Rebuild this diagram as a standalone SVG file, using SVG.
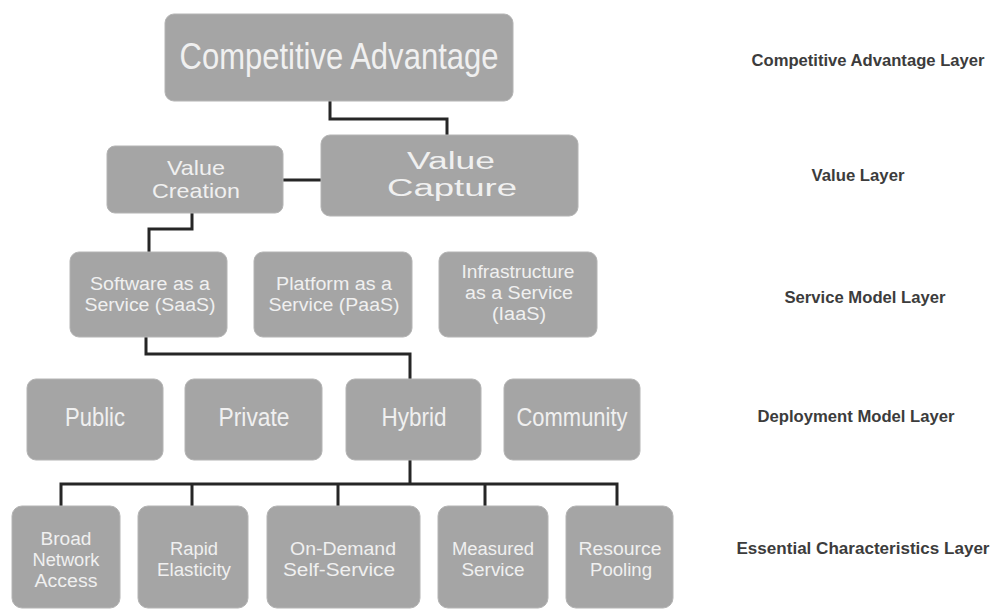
<svg xmlns="http://www.w3.org/2000/svg" width="992" height="612" viewBox="0 0 992 612">
<style>
.box{fill:#a5a5a5;stroke:#b4b4b4;stroke-width:1}
.t{font-family:"Liberation Sans",Arial,sans-serif;fill:#f0f0f0;text-anchor:middle}
.lbl{font-family:"Liberation Sans",Arial,sans-serif;font-weight:bold;font-size:17px;fill:#3c3c3c;text-anchor:middle}
.c{fill:none;stroke:#262626;stroke-width:3;stroke-linejoin:miter}
</style>
<rect width="992" height="612" fill="#ffffff"/>
<g id="connectors">
<path class="c" d="M330 101 V119 H447 V135"/>
<path class="c" d="M283 180 H321"/>
<path class="c" d="M192 213 V229 H149 V252"/>
<path class="c" d="M146 337 V354 H410 V379"/>
<path class="c" d="M410 460 V484"/>
<path class="c" d="M61 506 V484 H617 V506"/>
<path class="c" d="M192 484 V506 M338 484 V506 M485 484 V506"/>
</g>
<g id="competitive-advantage">
<rect class="box" x="165" y="14" width="348" height="87" rx="9"/>
<text class="t" x="339" y="69" font-size="37" textLength="319" lengthAdjust="spacingAndGlyphs">Competitive Advantage</text>
</g>
<g id="value-capture">
<rect class="box" x="321" y="135" width="257" height="81" rx="9"/>
<text class="t" x="451" y="169" font-size="23" textLength="88" lengthAdjust="spacingAndGlyphs">Value</text>
<text class="t" x="452" y="196" font-size="23" textLength="130" lengthAdjust="spacingAndGlyphs">Capture</text>
</g>
<g id="value-creation">
<rect class="box" x="107" y="146" width="176" height="67" rx="8"/>
<text class="t" x="196" y="175" font-size="21" textLength="58" lengthAdjust="spacingAndGlyphs">Value</text>
<text class="t" x="196" y="198" font-size="21" textLength="88" lengthAdjust="spacingAndGlyphs">Creation</text>
</g>
<g id="saas">
<rect class="box" x="70" y="252" width="157" height="85" rx="9"/>
<text class="t" x="150" y="290" font-size="18" textLength="120" lengthAdjust="spacingAndGlyphs">Software  as a</text>
<text class="t" x="150" y="311" font-size="18" textLength="131" lengthAdjust="spacingAndGlyphs">Service (SaaS)</text>
</g>
<g id="paas">
<rect class="box" x="254" y="252" width="158" height="85" rx="9"/>
<text class="t" x="334" y="290" font-size="18" textLength="116" lengthAdjust="spacingAndGlyphs">Platform  as a</text>
<text class="t" x="334" y="311" font-size="18" textLength="131" lengthAdjust="spacingAndGlyphs">Service (PaaS)</text>
</g>
<g id="iaas">
<rect class="box" x="439" y="252" width="158" height="85" rx="9"/>
<text class="t" x="518" y="278" font-size="18" textLength="113" lengthAdjust="spacingAndGlyphs">Infrastructure</text>
<text class="t" x="519" y="299" font-size="18" textLength="108" lengthAdjust="spacingAndGlyphs">as a Service</text>
<text class="t" x="519" y="320" font-size="18" textLength="54" lengthAdjust="spacingAndGlyphs">(IaaS)</text>
</g>
<g id="public">
<rect class="box" x="27" y="379" width="136" height="81" rx="9"/>
<text class="t" x="95" y="426" font-size="25" textLength="60" lengthAdjust="spacingAndGlyphs">Public</text>
</g>
<g id="private">
<rect class="box" x="185" y="379" width="137" height="81" rx="9"/>
<text class="t" x="254" y="426" font-size="25" textLength="71" lengthAdjust="spacingAndGlyphs">Private</text>
</g>
<g id="hybrid">
<rect class="box" x="346" y="379" width="135" height="81" rx="9"/>
<text class="t" x="414" y="426" font-size="25" textLength="65" lengthAdjust="spacingAndGlyphs">Hybrid</text>
</g>
<g id="community">
<rect class="box" x="504" y="379" width="136" height="81" rx="9"/>
<text class="t" x="572" y="426" font-size="25" textLength="111" lengthAdjust="spacingAndGlyphs">Community</text>
</g>
<g id="broad-network-access">
<rect class="box" x="12" y="506" width="108" height="102" rx="10"/>
<text class="t" x="66" y="545" font-size="18" textLength="51" lengthAdjust="spacingAndGlyphs">Broad</text>
<text class="t" x="66" y="566" font-size="18" textLength="67" lengthAdjust="spacingAndGlyphs">Network</text>
<text class="t" x="66" y="587" font-size="18" textLength="63" lengthAdjust="spacingAndGlyphs">Access</text>
</g>
<g id="rapid-elasticity">
<rect class="box" x="138" y="506" width="110" height="102" rx="10"/>
<text class="t" x="194" y="555" font-size="18" textLength="48" lengthAdjust="spacingAndGlyphs">Rapid</text>
<text class="t" x="194" y="576" font-size="18" textLength="74" lengthAdjust="spacingAndGlyphs">Elasticity</text>
</g>
<g id="on-demand-self-service">
<rect class="box" x="267" y="506" width="153" height="102" rx="10"/>
<text class="t" x="343" y="555" font-size="18" textLength="106" lengthAdjust="spacingAndGlyphs">On-Demand</text>
<text class="t" x="339" y="576" font-size="18" textLength="112" lengthAdjust="spacingAndGlyphs">Self-Service</text>
</g>
<g id="measured-service">
<rect class="box" x="438" y="506" width="110" height="102" rx="10"/>
<text class="t" x="493" y="555" font-size="18" textLength="82" lengthAdjust="spacingAndGlyphs">Measured</text>
<text class="t" x="493" y="576" font-size="18" textLength="63" lengthAdjust="spacingAndGlyphs">Service</text>
</g>
<g id="resource-pooling">
<rect class="box" x="566" y="506" width="107" height="102" rx="10"/>
<text class="t" x="620" y="555" font-size="18" textLength="83" lengthAdjust="spacingAndGlyphs">Resource</text>
<text class="t" x="621" y="576" font-size="18" textLength="62" lengthAdjust="spacingAndGlyphs">Pooling</text>
</g>
<g id="layer-labels">
<text class="lbl" x="868" y="66" textLength="233" lengthAdjust="spacingAndGlyphs">Competitive Advantage Layer</text>
<text class="lbl" x="858" y="181" textLength="93" lengthAdjust="spacingAndGlyphs">Value Layer</text>
<text class="lbl" x="865" y="303" textLength="161" lengthAdjust="spacingAndGlyphs">Service Model Layer</text>
<text class="lbl" x="856" y="422" textLength="197" lengthAdjust="spacingAndGlyphs">Deployment Model Layer</text>
<text class="lbl" x="863" y="554" textLength="253" lengthAdjust="spacingAndGlyphs">Essential Characteristics Layer</text>
</g>
</svg>
